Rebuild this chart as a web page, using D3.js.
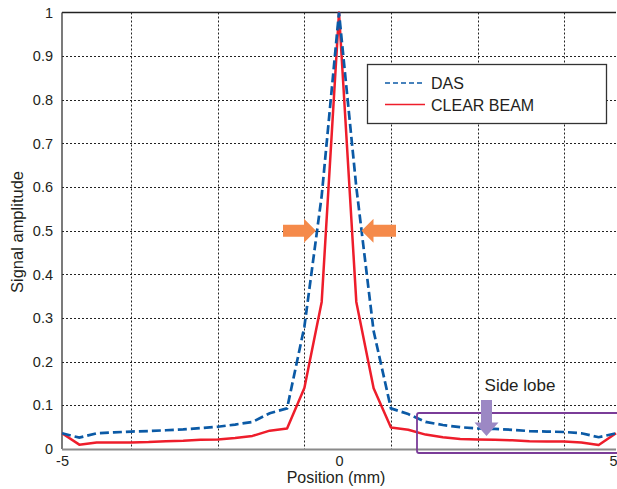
<!DOCTYPE html>
<html lang="en">
<meta charset="utf-8">
<title>Beam profile</title>
<style>
    body { margin: 0; background: white; }
    text { font-family: "Liberation Sans", Arial, sans-serif; }
</style>
<body>
<svg id="canvas"></svg>
<script src="https://cdn.jsdelivr.net/npm/d3@7"></script>
<script>

    ////////////////////// Data ///////////////////////
    var positions = [-5, -4.6875, -4.375, -4.0625, -3.75, -3.4375, -3.125, -2.8125,
                     -2.5, -2.1875, -1.875, -1.5625, -1.25, -0.9375, -0.625, -0.3125,
                     0, 0.3125, 0.625, 0.9375, 1.25, 1.5625, 1.875, 2.1875,
                     2.5, 2.8125, 3.125, 3.4375, 3.75, 4.0625, 4.375, 4.6875, 5];
    var das        = [0.036, 0.026, 0.036, 0.038, 0.040, 0.041, 0.043, 0.045,
                      0.048, 0.051, 0.056, 0.062, 0.082, 0.093, 0.28, 0.58,
                      1.0, 0.60, 0.27, 0.093, 0.080, 0.062, 0.055, 0.050,
                      0.047, 0.046, 0.044, 0.041, 0.040, 0.039, 0.036, 0.027, 0.036];
    var clearbeam  = [0.036, 0.010, 0.015, 0.015, 0.015, 0.016, 0.018, 0.019,
                      0.021, 0.022, 0.025, 0.030, 0.042, 0.047, 0.140, 0.337,
                      1.0, 0.337, 0.139, 0.049, 0.044, 0.033, 0.027, 0.023,
                      0.022, 0.021, 0.020, 0.018, 0.017, 0.017, 0.015, 0.009, 0.036];
    var series_names = ["DAS", "CLEAR BEAM"];
    var x_ticks    = [-5, 0, 5];
    var x_grid     = [-3.75, -2.1875, -0.625, 0.9375, 2.5, 4.0625];
    var y_ticks    = [0, 0.1, 0.2, 0.3, 0.4, 0.5, 0.6, 0.7, 0.8, 0.9, 1];
    var y_grid     = [0.1, 0.2, 0.3, 0.4, 0.5, 0.6, 0.7, 0.8, 0.9];
    ///////////////////////////////////////////////////

    ///////// Position and Dimension Variables ////////
    var dimensions = [617, 489];
    var plot_left  = 62;
    var plot_right = 616;
    var plot_top   = 12.5;
    var plot_bot   = 449;
    ///////////////////////////////////////////////////

    ///////////////// Style Variables /////////////////
    var das_color   = '#0b5aa6';
    var cb_color    = '#ee1d2b';
    var arrow_color = '#f58a4a';
    var lobe_color  = '#7a3c98';
    var lobe_arrow  = '#9c88c4';
    var text_color  = '#231f20';
    ///////////////////////////////////////////////////

    var canvas = d3.select("#canvas")
        .attr('width',  dimensions[0])
        .attr('height', dimensions[1]);

    var x = d3.scaleLinear().domain([-5, 5]).range([plot_left, plot_right]);
    var y = d3.scaleLinear().domain([0, 1]).range([plot_bot, plot_top]);

    ////////////////////// grid ///////////////////////
    canvas.append("g").selectAll("line.h").data(y_grid).enter().append("line")
        .attr('x1', plot_left).attr('x2', plot_right)
        .attr('y1', function (d) { return Math.round(y(d)) + 0.5; })
        .attr('y2', function (d) { return Math.round(y(d)) + 0.5; })
        .attr('stroke', '#222').attr('stroke-width', 1)
        .attr('stroke-dasharray', '2,2');
    canvas.append("g").selectAll("line.v").data(x_grid).enter().append("line")
        .attr('x1', function (d) { return Math.round(x(d)) + 0.5; })
        .attr('x2', function (d) { return Math.round(x(d)) + 0.5; })
        .attr('y1', plot_top).attr('y2', plot_bot)
        .attr('stroke', '#222').attr('stroke-width', 1)
        .attr('stroke-dasharray', '2,2');
    ///////////////////////////////////////////////////

    ////////////////////// axes ///////////////////////
    var yAxis = canvas.append("g")
        .attr('transform', 'translate(' + plot_left + ',0)')
        .call(d3.axisLeft(y).tickValues(y_ticks).tickSize(0).tickPadding(9)
              .tickFormat(function (d) { return String(d); }));
    yAxis.select(".domain").remove();
    yAxis.selectAll("text").attr('font-size', 14.5).attr('fill', text_color)
        .attr('font-family', '"Liberation Sans", Arial, sans-serif');

    var xAxis = canvas.append("g")
        .attr('transform', 'translate(0,' + plot_bot + ')')
        .call(d3.axisBottom(x).tickValues(x_ticks).tickSize(0).tickPadding(7)
              .tickFormat(function (d) { return String(d); }));
    xAxis.select(".domain").remove();
    xAxis.selectAll("text").attr('font-size', 14.5).attr('fill', text_color)
        .attr('font-family', '"Liberation Sans", Arial, sans-serif')
        .attr('text-anchor', function (d) { return d === 5 ? 'end' : 'middle'; })
        .attr('dx', function (d) { return d === 5 ? 1 : 0; });

    // frame lines
    canvas.append("line")
        .attr('x1', plot_left).attr('x2', plot_right)
        .attr('y1', plot_top).attr('y2', plot_top)
        .attr('stroke', '#222').attr('stroke-width', 1.3);
    canvas.append("line")
        .attr('x1', plot_left).attr('x2', plot_left)
        .attr('y1', plot_top).attr('y2', plot_bot)
        .attr('stroke', '#333').attr('stroke-width', 1.3);
    canvas.append("line")
        .attr('x1', plot_left).attr('x2', plot_right)
        .attr('y1', plot_bot + 0.5).attr('y2', plot_bot + 0.5)
        .attr('stroke', '#8a8a8a').attr('stroke-width', 2);

    canvas.append("text")
        .attr('x', 336).attr('y', 483)
        .attr('text-anchor', 'middle')
        .attr('font-size', 16).attr('fill', text_color)
        .text("Position (mm)");
    canvas.append("text")
        .attr('transform', 'translate(23,232) rotate(-90)')
        .attr('text-anchor', 'middle')
        .attr('font-size', 16.5).attr('fill', text_color)
        .text("Signal amplitude");
    ///////////////////////////////////////////////////

    ///////////////////// series //////////////////////
    var line = d3.line()
        .x(function (d, i) { return x(positions[i]); })
        .y(function (d) { return y(d); });

    canvas.append("path").datum(clearbeam)
        .attr('d', line).attr('fill', 'none')
        .attr('stroke', cb_color).attr('stroke-width', 2.5)
        .attr('stroke-linejoin', 'round');
    canvas.append("path").datum(das)
        .attr('d', line).attr('fill', 'none')
        .attr('stroke', das_color).attr('stroke-width', 2.7)
        .attr('stroke-dasharray', '9,4');
    ///////////////////////////////////////////////////

    ///////////////////// legend //////////////////////
    var legend = canvas.append("g");
    legend.append("rect")
        .attr('x', 367.5).attr('y', 64.5).attr('width', 239).attr('height', 59)
        .attr('fill', 'white').attr('stroke', '#333').attr('stroke-width', 1.3);
    var leg_colors = [das_color, cb_color];
    var leg_dash   = ['5,3', null];
    series_names.forEach(function (name, i) {
        var ly = 83 + i * 21.5;
        legend.append("line")
            .attr('x1', 385).attr('x2', 425).attr('y1', ly).attr('y2', ly)
            .attr('stroke', leg_colors[i]).attr('stroke-width', 1.6)
            .attr('stroke-dasharray', leg_dash[i]);
        legend.append("text")
            .attr('x', 431).attr('y', ly + 6)
            .attr('font-size', 16).attr('fill', text_color)
            .text(name);
    });
    ///////////////////////////////////////////////////

    //////////////////// annotations //////////////////
    // orange FWHM arrows
    var ay = y(0.5);
    canvas.append("path")
        .attr('d', 'M283,' + (ay - 6) + ' L304,' + (ay - 6) + ' L304,' + (ay - 12) +
                   ' L316,' + ay + ' L304,' + (ay + 12) + ' L304,' + (ay + 6) +
                   ' L283,' + (ay + 6) + ' Z')
        .attr('fill', arrow_color);
    canvas.append("path")
        .attr('d', 'M396,' + (ay - 6) + ' L373.5,' + (ay - 6) + ' L373.5,' + (ay - 12) +
                   ' L361.5,' + ay + ' L373.5,' + (ay + 12) + ' L373.5,' + (ay + 6) +
                   ' L396,' + (ay + 6) + ' Z')
        .attr('fill', arrow_color);

    // side lobe box
    canvas.append("rect")
        .attr('x', 417).attr('y', 413).attr('width', 215).attr('height', 40)
        .attr('rx', 2)
        .attr('fill', 'none').attr('stroke', lobe_color).attr('stroke-width', 1.8);
    canvas.append("path")
        .attr('d', 'M481,400 L492,400 L492,422.5 L498.5,422.5 L486.5,436 L474.5,422.5 L481,422.5 Z')
        .attr('fill', lobe_arrow);
    canvas.append("text")
        .attr('x', 520).attr('y', 391)
        .attr('text-anchor', 'middle')
        .attr('font-size', 17).attr('fill', text_color)
        .text("Side lobe");
    ///////////////////////////////////////////////////

</script>
</body>
</html>
